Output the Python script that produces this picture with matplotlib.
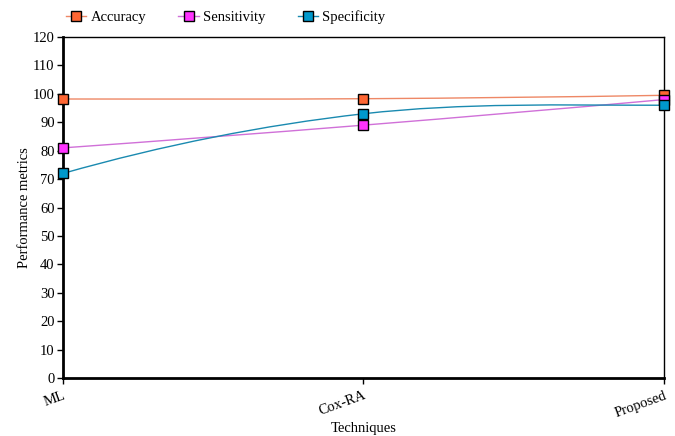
import matplotlib
matplotlib.use("Agg")
import matplotlib.pyplot as plt
from matplotlib.path import Path
from matplotlib.patches import PathPatch
import numpy as np

techniques = ["ML", "Cox-RA", "Proposed"]
accuracy = [98.2, 98.3, 99.5]
sensitivity = [81, 89, 98]
specificity = [72, 93, 96]

series = [
    ("Accuracy", accuracy, "#FF6633", "#EE8866"),
    ("Sensitivity", sensitivity, "#FF33FF", "#D070D8"),
    ("Specificity", specificity, "#0099CC", "#1A8AB0"),
]

plt.rcParams["font.family"] = ["Liberation Serif", "DejaVu Serif"]


def smooth_path(x, y):
    # hermite curve through the points, drawn as beziers (drawing only)
    x = np.asarray(x, float)
    y = np.asarray(y, float)
    n = len(x)
    d = np.diff(y) / np.diff(x)
    m = np.zeros(n)
    for i in range(1, n - 1):
        m[i] = (y[i + 1] - y[i - 1]) / (x[i + 1] - x[i - 1])
    m[0] = 2 * d[0] - m[1]
    m[-1] = 2 * d[-1] - m[-2]
    if m[0] * d[0] < 0:
        m[0] = 0
    if m[-1] * d[-1] < 0:
        m[-1] = 0
    verts = [(x[0], y[0])]
    codes = [Path.MOVETO]
    for i in range(n - 1):
        h = x[i + 1] - x[i]
        verts += [(x[i] + h / 3, y[i] + m[i] * h / 3),
                  (x[i + 1] - h / 3, y[i + 1] - m[i + 1] * h / 3),
                  (x[i + 1], y[i + 1])]
        codes += [Path.CURVE4] * 3
    return Path(verts, codes)


fig = plt.figure(figsize=(6.75, 4.36), dpi=100)
ax = fig.add_axes([0.0933, 0.133, 0.8904, 0.782])

xs = np.arange(len(techniques))
for name, vals, fill, line in series:
    ax.add_patch(PathPatch(smooth_path(xs, vals), facecolor="none",
                           edgecolor=line, lw=1.0, zorder=2))
    ax.plot(xs, vals, linestyle="none", marker="s", markersize=7,
            markerfacecolor=fill, markeredgecolor="black",
            markeredgewidth=1.0, zorder=4, clip_on=False)
    # legend handle
    ax.plot([], [], color=line, lw=1.0, marker="s", markersize=7,
            markerfacecolor=fill, markeredgecolor="black", label=name)

ax.set_xlim(0, len(techniques) - 1)
ax.set_ylim(0, 120)
ax.set_yticks(range(0, 121, 10))
ax.set_xticks(xs)
ax.set_xticklabels(techniques, rotation=20, ha="right", fontsize=10.5,
                   rotation_mode="anchor")
ax.tick_params(axis="y", labelsize=10.5, length=4, width=1, pad=2)
ax.tick_params(axis="x", length=4, width=1, pad=4)

ax.spines["left"].set_linewidth(2)
ax.spines["bottom"].set_linewidth(2)
ax.spines["top"].set_linewidth(1)
ax.spines["right"].set_linewidth(1)

ax.set_ylabel("Performance metrics", fontsize=10.5, labelpad=1)
ax.set_xlabel("Techniques", fontsize=10.5)
ax.xaxis.set_label_coords(0.5, -0.128)

ax.legend(loc="lower left", bbox_to_anchor=(-0.005, 1.02), ncol=3,
          frameon=False, fontsize=10.5, handlelength=1.4,
          columnspacing=2.2, handletextpad=0.3, borderaxespad=0)

fig.savefig("out.png", dpi=100)
